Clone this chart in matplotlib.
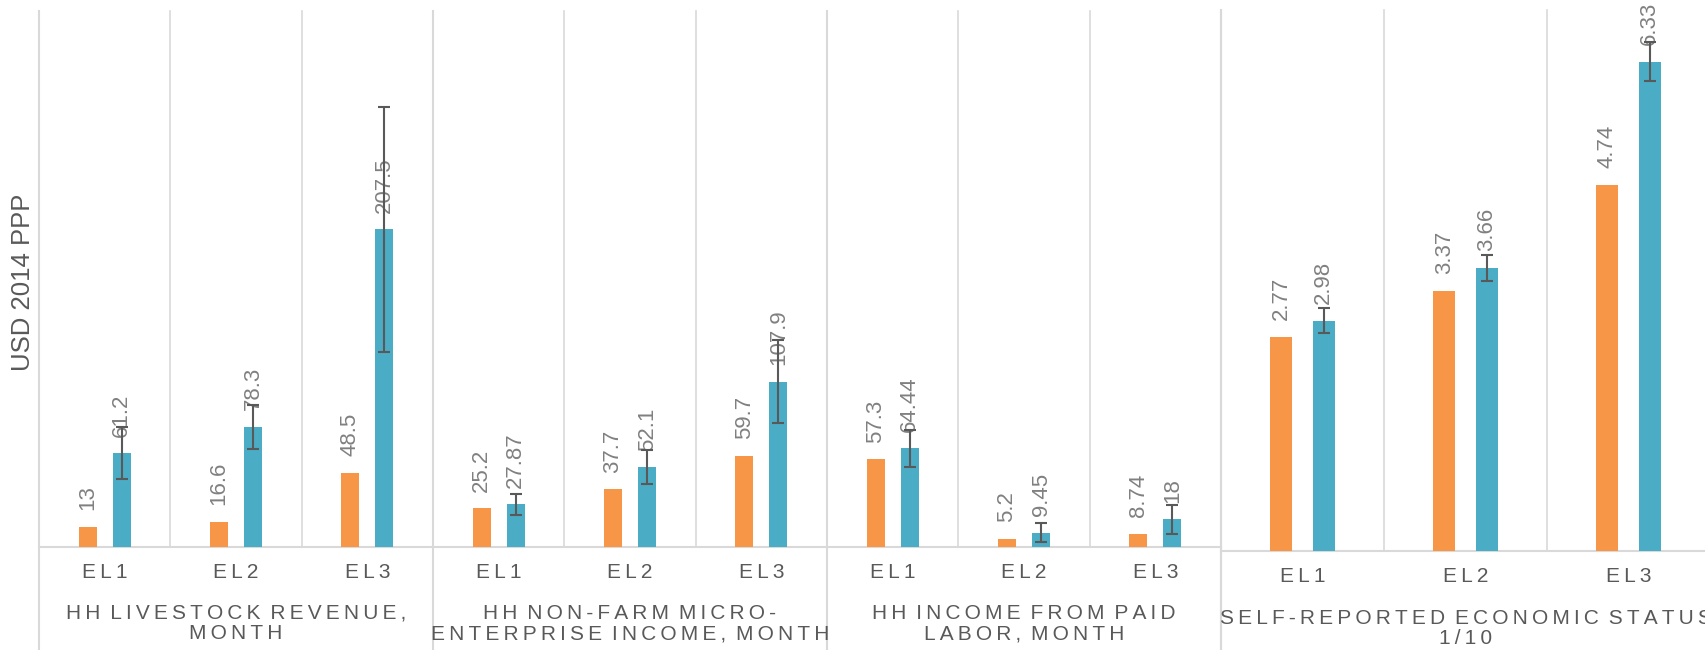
import matplotlib
matplotlib.use("Agg")
import matplotlib.pyplot as plt
import numpy as np

# ---- data ----
left_groups = ["HH LIVESTOCK REVENUE,\nMONTH",
               "HH NON-FARM MICRO-\nENTERPRISE INCOME, MONTH",
               "HH INCOME FROM PAID\nLABOR, MONTH"]
right_group = "SELF-REPORTED ECONOMIC STATUS\n1/10"
levels = ["EL1", "EL2", "EL3"]

left_orange = [13, 16.6, 48.5, 25.2, 37.7, 59.7, 57.3, 5.2, 8.74]
left_blue = [61.2, 78.3, 207.5, 27.87, 52.1, 107.9, 64.44, 9.45, 18]
left_blue_err = [17, 14.5, 80, 7, 11, 27, 12, 6, 9.5]
left_orange_lbl = ["13", "16.6", "48.5", "25.2", "37.7", "59.7", "57.3", "5.2", "8.74"]
left_blue_lbl = ["61.2", "78.3", "207.5", "27.87", "52.1", "107.9", "64.44", "9.45", "18"]

right_orange = [2.77, 3.37, 4.74]
right_blue = [2.98, 3.66, 6.33]
right_blue_err = [0.16, 0.17, 0.25]
right_orange_lbl = ["2.77", "3.37", "4.74"]
right_blue_lbl = ["2.98", "3.66", "6.33"]

ylabel = "USD 2014 PPP"

# ---- style ----
ORANGE = "#F79646"
BLUE = "#4BACC6"
GRID = "#d9d9d9"
TXT = "#595959"
LBL = "#808080"
FAM = ["Liberation Sans", "DejaVu Sans"]
plt.rcParams['font.family'] = FAM

W, H = 1706, 650
fig = plt.figure(figsize=(W / 100, H / 100), dpi=100)


def spaced(s):
    out = []
    for line in s.split("\n"):
        t = "\u2009".join(line)
        t = t.replace("\u2009 \u2009", " \u2009")
        out.append(t)
    return "\n".join(out)


def axes_px(x0, x1, ytop, ybot):
    return fig.add_axes([x0 / W, (H - ybot) / H, (x1 - x0) / W, (ybot - ytop) / H])


BW = 0.137
OFF = 0.13


def draw_panel(ax, orange, blue, err, olbl, blbl, ymax, n, groups, group_size, extend_bottom):
    x = np.arange(n)
    ax.set_xlim(-0.5, n - 0.5)
    ax.set_ylim(0, ymax)
    for s in ax.spines.values():
        s.set_visible(False)
    ax.set_xticks([])
    ax.set_yticks([])
    ax.patch.set_alpha(0)
    xt = ax.get_xaxis_transform()
    # separators
    for k in range(n + 1):
        xv = k - 0.5
        if k % group_size == 0:
            ax.plot([xv, xv], [1, extend_bottom], transform=xt, color=GRID, lw=1.5,
                    clip_on=False, zorder=1)
        else:
            ax.plot([xv, xv], [1, 0], transform=xt, color=GRID, lw=1.2,
                    clip_on=False, zorder=1)
    ax.axhline(0, color=GRID, lw=1.5, zorder=1, clip_on=False)
    ax.bar(x - OFF, orange, width=BW, color=ORANGE, zorder=2)
    ax.bar(x + OFF, blue, width=BW, color=BLUE, zorder=2)
    ax.errorbar(x + OFF, blue, yerr=err, fmt='none', ecolor="#595959", elinewidth=1.5,
                capsize=4.5, capthick=1.5, zorder=5)
    for xi, v, t in zip(x - OFF, orange, olbl):
        ax.annotate(t, (xi, v), xytext=(0, 12), textcoords='offset points', rotation=90,
                    ha='center', va='bottom', fontsize=16, color=LBL, zorder=3)
    for xi, v, t in zip(x + OFF, blue, blbl):
        ax.annotate(t, (xi, v), xytext=(0, 12), textcoords='offset points', rotation=90,
                    ha='center', va='bottom', fontsize=16, color=LBL, zorder=3)
    for xi in x:
        ax.text(xi, -0.048, spaced(levels[xi % 3]), transform=xt, ha='center', va='center',
                fontsize=15, color=TXT)
    for g, name in enumerate(groups):
        cx = g * group_size + (group_size - 1) / 2
        ax.text(cx, -0.143, spaced(name), transform=xt, ha='center', va='center',
                fontsize=15, color=TXT, linespacing=1.1)


axL = axes_px(39, 1221, 11, 547)
draw_panel(axL, left_orange, left_blue, left_blue_err, left_orange_lbl, left_blue_lbl,
           350, 9, left_groups, 3, -0.2)

axR = axes_px(1221, 1710, 10, 551)
draw_panel(axR, right_orange, right_blue, right_blue_err, right_orange_lbl, right_blue_lbl,
           7, 3, [right_group], 3, -0.2)

fig.text(23 / W, (H - 282) / H, ylabel, rotation=90, ha='center', va='center',
         fontsize=18.5, color=TXT)

fig.savefig("out.png", dpi=100)
